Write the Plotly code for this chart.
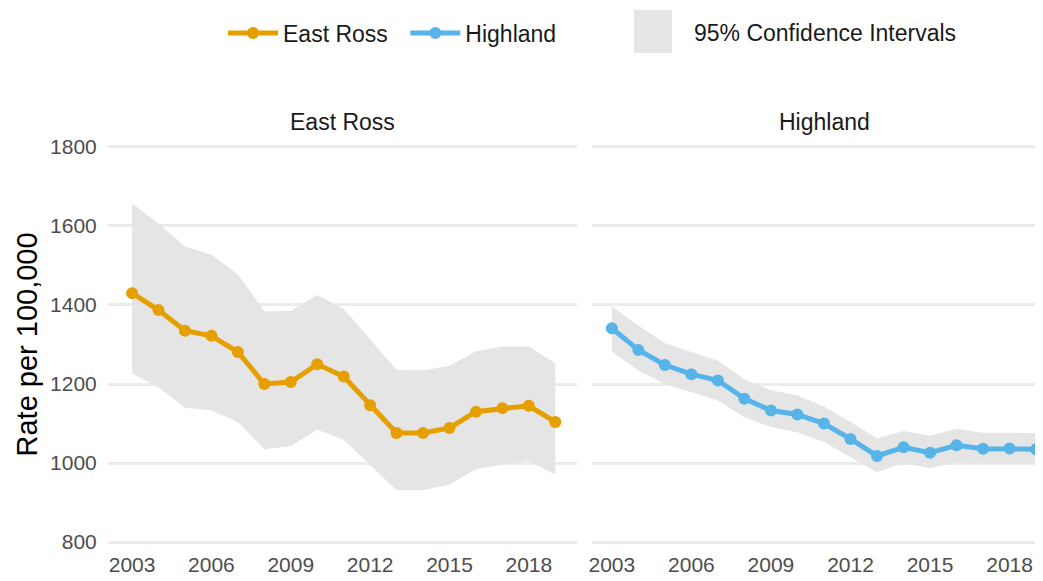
import plotly.graph_objects as go

years = list(range(2003, 2020))

east_ross = [1430, 1387, 1335, 1322, 1281, 1200, 1205, 1250, 1219, 1146,
             1076, 1076, 1089, 1130, 1139, 1145, 1104]
east_ross_lo = [1226, 1192, 1140, 1133, 1104, 1035, 1043, 1084, 1059, 994,
                931, 931, 946, 985, 996, 1005, 971]
east_ross_hi = [1657, 1606, 1548, 1527, 1478, 1384, 1385, 1425, 1390, 1314,
                1236, 1234, 1246, 1283, 1295, 1295, 1252]

highland = [1341, 1286, 1248, 1225, 1209, 1163, 1133, 1123, 1100, 1061,
            1018, 1040, 1026, 1045, 1036, 1037, 1035]
highland_lo = [1282, 1234, 1200, 1179, 1158, 1116, 1091, 1078, 1053, 1015,
               977, 1000, 987, 1002, 998, 998, 998]
highland_hi = [1396, 1348, 1303, 1280, 1259, 1212, 1184, 1171, 1143, 1104,
               1062, 1081, 1069, 1087, 1077, 1077, 1076]

x_ticks = [2003, 2006, 2009, 2012, 2015, 2018]
y_ticks = [800, 1000, 1200, 1400, 1600, 1800]

ORANGE = "#E69F00"
BLUE = "#56B4E9"
CI_GREY = "#E5E5E5"
FONT = "Liberation Sans"

panels = [
    ("East Ross", east_ross, east_ross_lo, east_ross_hi, ORANGE, "x", "y", "legend"),
    ("Highland", highland, highland_lo, highland_hi, BLUE, "x2", "y2", "legend2"),
]

fig = go.Figure()

for name, vals, lo, hi, col, xa, ya, lg in panels:
    fig.add_trace(go.Scatter(
        x=years + years[::-1], y=hi + lo[::-1],
        fill="toself", fillcolor=CI_GREY, line=dict(width=0),
        mode="lines", name="95% Confidence Intervals", showlegend=False,
        hoverinfo="skip", xaxis=xa, yaxis=ya,
    ))

for name, vals, lo, hi, col, xa, ya, lg in panels:
    fig.add_trace(go.Scatter(
        x=years, y=vals, mode="lines+markers", name=name,
        line=dict(color=col, width=5), marker=dict(color=col, size=12),
        legend=lg, xaxis=xa, yaxis=ya,
    ))

axis_common = dict(
    showgrid=False, zeroline=False, showline=False, automargin=False,
    tickvals=x_ticks, ticks="",
    tickfont=dict(family=FONT, size=21, color="#4D4D4D"),
)
yaxis_common = dict(
    range=[780, 1820], tickvals=y_ticks, showgrid=True, automargin=False,
    gridcolor="#EBEBEB", gridwidth=2.5, zeroline=False, showline=False,
    ticks="outside", ticklen=6, tickcolor="rgba(0,0,0,0)",
    tickfont=dict(family=FONT, size=21, color="#4D4D4D"),
)

legend_common = dict(
    orientation="h", y=1.258, yanchor="middle", xanchor="left",
    font=dict(family=FONT, size=23, color="#1A1A1A"), itemwidth=50,
    bgcolor="rgba(0,0,0,0)",
)

# page body has an 8px margin, so the figure is 8px smaller than the window
fig.update_layout(
    width=1035, height=573,
    margin=dict(l=100, r=0, t=131, b=31),
    plot_bgcolor="white", paper_bgcolor="white",
    font=dict(family=FONT, size=21, color="#1A1A1A"),
    xaxis=dict(domain=[0, 0.5016], range=[2002.09, 2019.82], **axis_common),
    xaxis2=dict(domain=[0.5176, 1], range=[2002.25, 2019.26], **axis_common),
    yaxis=dict(**yaxis_common),
    yaxis2=dict(anchor="x2", showticklabels=False, **yaxis_common),
    legend=dict(x=0.123, **legend_common),
    legend2=dict(x=0.318, **legend_common),
    shapes=[
        dict(type="rect", xref="paper", yref="paper",
             x0=0.5626, x1=0.6032, y0=1.2092, y1=1.3139,
             fillcolor=CI_GREY, line=dict(width=0)),
    ],
    annotations=[
        dict(text="95% Confidence Intervals", x=0.6246, y=1.258,
             xref="paper", yref="paper", xanchor="left", yanchor="middle",
             showarrow=False, font=dict(size=23, color="#1A1A1A")),
        dict(text="East Ross", x=0.2508, y=1.041, xref="paper", yref="paper",
             xanchor="center", yanchor="middle",
             showarrow=False, font=dict(size=23, color="#1A1A1A")),
        dict(text="Highland", x=0.7658, y=1.041, xref="paper", yref="paper",
             xanchor="center", yanchor="middle",
             showarrow=False, font=dict(size=23, color="#1A1A1A")),
        dict(text="Rate per 100,000", x=-0.0877, y=0.5, xref="paper",
             yref="paper", xanchor="center", yanchor="middle", textangle=-90,
             showarrow=False, font=dict(size=29, color="black")),
    ],
)

fig.write_html("out.html")
